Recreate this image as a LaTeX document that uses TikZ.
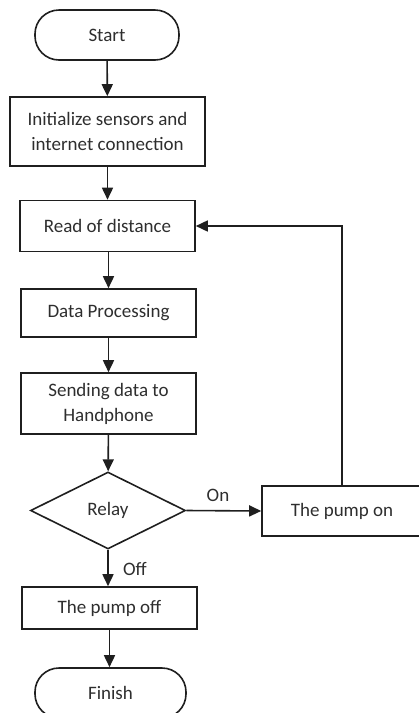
\documentclass[tikz,border=0pt]{standalone}
\usepackage{fontspec}
\setmainfont{Carlito}
\usetikzlibrary{shapes.geometric,arrows.meta}
\definecolor{ln}{HTML}{1F1F1F}
\definecolor{tx}{HTML}{2E2E2E}
\tikzset{
  box/.style={draw=ln, line width=1.6pt, rectangle, inner sep=0pt, text=tx, align=center, font=\fontsize{19}{25}\selectfont},
  term/.style={box, rounded corners=24pt},
  dec/.style={draw=ln, line width=1.6pt, diamond, aspect=2, inner sep=0pt, text=tx, font=\fontsize{19}{25}\selectfont},
  arr/.style={draw=ln, line width=1.6pt, -{Triangle[length=12pt,width=11pt]}},
  lbl/.style={text=tx, font=\fontsize{19}{25}\selectfont, inner sep=0pt}
}
\begin{document}
\begin{tikzpicture}[x=1pt,y=-1pt]
\useasboundingbox (0,0) rectangle (419,713);
\clip (0,0) rectangle (419,713);
\node[term, minimum width=144pt, minimum height=50pt] (start) at (107,35) {Start};
\node[box, minimum width=195pt, minimum height=69pt] (init) at (107.5,131.5) {Initialize sensors and\\internet connection};
\node[box, minimum width=175pt, minimum height=51pt] (read) at (107.5,226) {Read of distance};
\node[box, minimum width=175pt, minimum height=48pt] (proc) at (108.5,313) {Data Processing};
\node[box, minimum width=175pt, minimum height=61pt] (send) at (108.5,403.5) {Sending data to\\Handphone};
\node[dec, minimum width=155pt, minimum height=77pt] (relay) at (108,510.5) {Relay};
\node[box, minimum width=160pt, minimum height=50pt] (pon) at (342,511) {The pump on};
\node[box, minimum width=175pt, minimum height=42pt] (poff) at (109.5,608) {The pump off};
\node[term, minimum width=151pt, minimum height=50pt] (fin) at (110.5,693) {Finish};
\node[lbl] (on) at (218,495) {On};
\node[lbl] (off) at (135,569) {Off};
\draw[arr] (start) -- (init);
\draw[arr] (init) -- (read);
\draw[arr] (read.south -| proc.north) -- (proc);
\draw[arr] (proc) -- (send);
\draw[arr] (send) -- (relay);
\draw[arr] (relay.east) -- (pon.west);
\draw[arr] (relay.south) -- (relay.south |- poff.north);
\draw[arr] (poff) -- (poff.south |- fin.north);
\draw[arr] (pon.north) |- (read.east);
\end{tikzpicture}
\end{document}
